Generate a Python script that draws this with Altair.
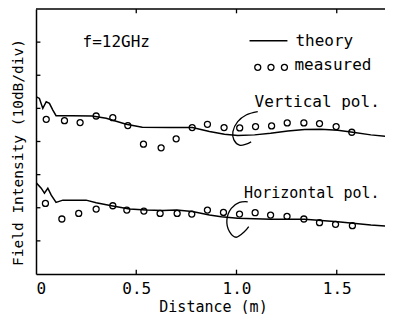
import altair as alt
import pandas as pd

# ---- data (distance in m, field intensity in dB, 10 dB / div) ----
v_theory_d = [0, 0.017, 0.034, 0.051, 0.067, 0.084, 0.10, 0.18, 0.28, 0.35, 0.45, 0.53, 0.67,
              0.78, 0.865, 0.94, 1.006, 1.09, 1.17, 1.256, 1.34, 1.42, 1.505, 1.58, 1.67, 1.78]
v_theory_db = [-26.5, -27.0, -30.0, -28.0, -28.5, -30.5, -32.2, -32.2, -32.3, -33.0, -34.8, -35.7,
               -35.8, -35.8, -37.0, -37.8, -38.2, -38.0, -37.5, -36.8, -36.4, -36.3, -36.6, -37.2,
               -38.0, -38.6]

v_meas_d = [0.051, 0.142, 0.220, 0.300, 0.383, 0.458, 0.536, 0.624, 0.699, 0.779,
            0.855, 0.938, 1.016, 1.095, 1.175, 1.253, 1.336, 1.414, 1.497, 1.575]
v_meas_db = [-33.3, -33.7, -34.3, -32.3, -32.8, -35.2, -40.8, -41.9, -39.2, -35.8,
             -34.8, -35.8, -35.9, -35.5, -35.3, -34.4, -34.4, -34.6, -35.5, -37.2]

h_theory_d = [0, 0.026, 0.042, 0.059, 0.076, 0.10, 0.134, 0.25, 0.30, 0.383, 0.466, 0.55,
              0.632, 0.70, 0.78, 0.865, 0.924, 1.006, 1.173, 1.34, 1.505, 1.67, 1.78]
h_theory_db = [-52.4, -54.1, -55.6, -54.1, -56.2, -58.4, -57.7, -57.7, -58.5, -59.5, -60.4,
               -60.7, -60.8, -60.7, -61.1, -62.2, -62.7, -63.2, -63.5, -63.5, -64.2, -65.2, -65.7]

h_meas_d = [0.047, 0.129, 0.213, 0.300, 0.383, 0.453, 0.538, 0.619, 0.704, 0.777,
            0.855, 0.935, 1.015, 1.093, 1.17, 1.252, 1.336, 1.414, 1.494, 1.578]
h_meas_db = [-58.7, -63.4, -61.7, -60.4, -59.4, -60.7, -61.0, -61.7, -61.7, -61.9,
             -60.7, -61.4, -61.9, -61.5, -62.2, -62.6, -63.4, -64.5, -65.0, -65.4]

# hand-drawn "C" brackets around the 1.0 m region
v_arc_d = [1.106, 1.048, 1.006, 0.982, 0.987, 1.015, 1.048, 1.073]
v_arc_db = [-31.0, -32.0, -34.0, -37.0, -39.5, -41.1, -40.8, -40.1]
h_arc_d = [1.056, 1.015, 0.974, 0.952, 0.965, 0.998, 1.04, 1.061]
h_arc_db = [-58.2, -58.4, -60.2, -63.7, -67.2, -68.9, -67.2, -65.7]

x_ticks = [0, 0.5, 1.0, 1.5]
y_ticks = [-10, -20, -30, -40, -50, -60, -70]

labels_text = ["f=12GHz", "Vertical pol.", "Horizontal pol.", "theory", "measured"]
labels_d = [0.232, 1.09, 1.038, 1.294, 1.289]
labels_db = [-9.9, -28.1, -55.5, -9.8, -17.0]
labels_size = [16, 16, 15, 16, 16]

legend_line_d = [1.065, 1.254]
legend_line_db = [-9.6, -9.6]
legend_pts_d = [1.106, 1.172, 1.239]
legend_pts_db = [-17.6, -17.6, -17.6]

FONT = "DejaVu Sans Mono"
PX_PER_M = 200.5
PLOT_W, PLOT_H = 349, 265
XMAX, YMIN = PLOT_W / PX_PER_M, -80

x_enc = alt.X("d:Q", scale=alt.Scale(domain=[0, XMAX], nice=False, zero=False),
              axis=alt.Axis(values=x_ticks,
                            labelExpr="datum.value == 0 ? '0' : format(datum.value, '.1f')",
                            title="Distance (m)", titleY=37, titleBaseline="alphabetic",
                            titleX=(213 - 36), titleAlign="center", titleFontSize=15,
                            labelPadding=14, labelBaseline="middle"))
y_enc = alt.Y("db:Q", scale=alt.Scale(domain=[YMIN, 0], nice=False, zero=False),
              axis=alt.Axis(labels=False, title="Field Intensity (10dB/div)",
                            titleAngle=270, titleX=-18, titleY=143, titleBaseline="middle",
                            titleAlign="center", titleFontSize=14.5))

def df(d, db):
    return pd.DataFrame({"d": d, "db": db, "i": list(range(len(d)))})

line_style = dict(color="black", strokeWidth=1.5, clip=True)

v_theory = alt.Chart(df(v_theory_d, v_theory_db)).mark_line(**line_style).encode(x=x_enc, y=y_enc)
h_theory = alt.Chart(df(h_theory_d, h_theory_db)).mark_line(**line_style).encode(x=x_enc, y=y_enc)

pt_style = dict(shape="circle", filled=False, color="black", size=36, strokeWidth=1.3, opacity=1)
v_meas = alt.Chart(df(v_meas_d, v_meas_db)).mark_point(**pt_style).encode(x=x_enc, y=y_enc)
h_meas = alt.Chart(df(h_meas_d, h_meas_db)).mark_point(**pt_style).encode(x=x_enc, y=y_enc)

arc_style = dict(color="black", strokeWidth=1.3, interpolate="catmull-rom")
v_arc = alt.Chart(df(v_arc_d, v_arc_db)).mark_line(**arc_style).encode(x=x_enc, y=y_enc, order="i:Q")
h_arc = alt.Chart(df(h_arc_d, h_arc_db)).mark_line(**arc_style).encode(x=x_enc, y=y_enc, order="i:Q")

# axis frame: top line and inward ticks
top_line = alt.Chart(pd.DataFrame({"d": [0], "d2": [XMAX], "db": [0]})).mark_rule(
    color="black", strokeWidth=1.5).encode(x=x_enc, x2="d2:Q", y=y_enc)
bt = pd.DataFrame({"d": x_ticks[1:], "db": [YMIN] * 3, "db2": [YMIN + 1.3] * 3})
bottom_ticks = alt.Chart(bt).mark_rule(color="black", strokeWidth=1.3).encode(x=x_enc, y=y_enc, y2="db2:Q")
tt = pd.DataFrame({"d": x_ticks[1:], "db": [0] * 3, "db2": [-1.3] * 3})
top_ticks = alt.Chart(tt).mark_rule(color="black", strokeWidth=1.3).encode(x=x_enc, y=y_enc, y2="db2:Q")
lt = pd.DataFrame({"d": [0] * len(y_ticks), "d2": [0.022] * len(y_ticks), "db": y_ticks})
left_ticks = alt.Chart(lt).mark_rule(color="black", strokeWidth=1.3).encode(x=x_enc, x2="d2:Q", y=y_enc)

# legend
leg_line = alt.Chart(pd.DataFrame({"d": [legend_line_d[0]], "d2": [legend_line_d[1]],
                                   "db": [legend_line_db[0]]})).mark_rule(
    color="black", strokeWidth=1.5).encode(x=x_enc, x2="d2:Q", y=y_enc)
leg_pts = alt.Chart(df(legend_pts_d, legend_pts_db)).mark_point(**pt_style).encode(x=x_enc, y=y_enc)

texts = alt.Chart(pd.DataFrame({"d": labels_d, "db": labels_db, "t": labels_text,
                                "s": labels_size})).mark_text(
    align="left", baseline="middle", font=FONT, color="black").encode(
    x=x_enc, y=y_enc, text="t:N", size=alt.Size("s:Q", scale=None, legend=None))

chart = alt.layer(
    top_line, bottom_ticks, top_ticks, left_ticks,
    v_theory, h_theory, v_meas, h_meas, v_arc, h_arc,
    leg_line, leg_pts, texts
).properties(
    width=PLOT_W, height=PLOT_H,
    autosize=alt.AutoSizeParams(type="none"),
    padding={"left": 28, "top": 1, "right": 0, "bottom": 40},
).configure_view(stroke=None).configure_axis(
    domainColor="black", domainWidth=1.5, ticks=False, tickSize=0, grid=False,
    labelFont=FONT, labelFontSize=16, labelColor="black",
    titleFont=FONT, titleFontSize=16, titleColor="black", titleFontWeight="normal",
)

chart.save("out.html", embed_options={"renderer": "svg", "actions": False})
